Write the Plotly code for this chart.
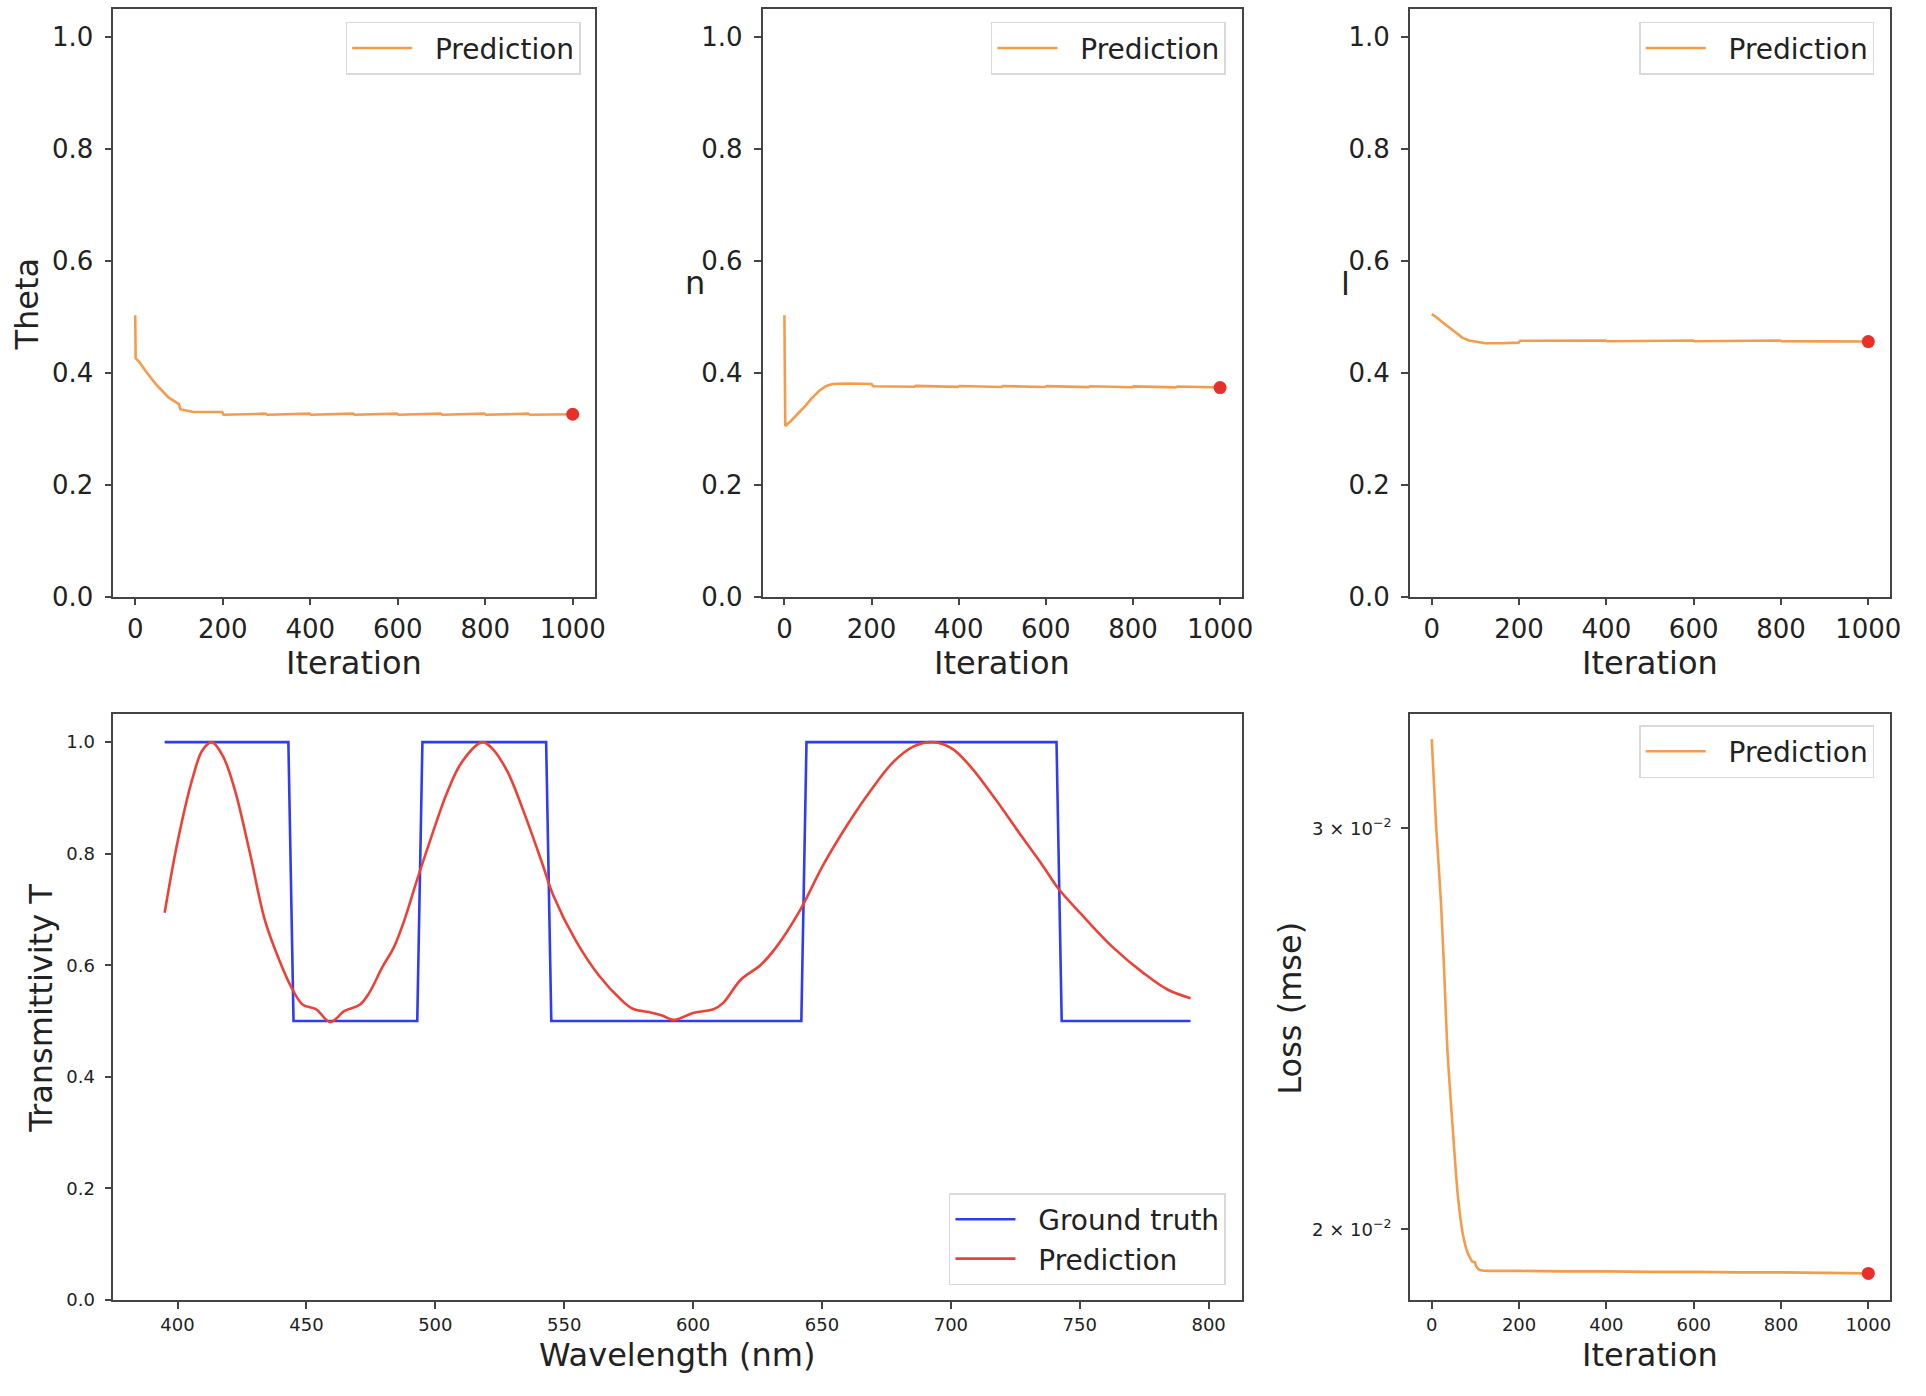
import plotly.graph_objects as go

# ---- Daten ----
# Theta ueber Iterationen
theta_iter = [0, 1, 10, 25, 47, 76, 100, 103, 133, 199, 202, 250, 298, 302, 350, 398, 402, 450,
              498, 502, 550, 598, 602, 650, 698, 702, 750, 798, 802, 850, 898, 902, 950, 1000]
theta_val = [0.503, 0.426, 0.419, 0.402, 0.380, 0.356, 0.344, 0.335, 0.330, 0.330, 0.325, 0.326,
             0.327, 0.325, 0.326, 0.327, 0.325, 0.326, 0.327, 0.325, 0.326, 0.327, 0.325, 0.326,
             0.327, 0.325, 0.326, 0.327, 0.325, 0.326, 0.327, 0.325, 0.326, 0.326]

# n ueber Iterationen
n_iter = [0, 2, 15, 26, 38, 49, 62, 80, 95, 110, 150, 200, 204, 298, 302, 398, 402, 498, 502,
          598, 602, 698, 702, 798, 802, 898, 902, 1000]
n_val = [0.503, 0.305, 0.314, 0.323, 0.332, 0.342, 0.354, 0.368, 0.376, 0.380, 0.381, 0.380,
         0.376, 0.3752, 0.3768, 0.3750, 0.3766, 0.3748, 0.3764, 0.3746, 0.3762, 0.3744,
         0.3760, 0.3742, 0.3758, 0.3740, 0.3755, 0.3737]

# l ueber Iterationen
l_iter = [0, 10, 24, 40, 55, 70, 85, 105, 123, 160, 199, 203, 298, 302, 398, 402, 498, 502,
          598, 602, 698, 702, 798, 802, 898, 902, 1000]
l_val = [0.505, 0.500, 0.491, 0.481, 0.471, 0.463, 0.458, 0.455, 0.453, 0.453, 0.454, 0.4575,
         0.4578, 0.4565, 0.4578, 0.4565, 0.4578, 0.4565, 0.4578, 0.4565, 0.4578, 0.4565,
         0.4578, 0.4565, 0.4575, 0.4563, 0.4560]

# Loss ueber Iterationen
loss_iter = [0, 10, 21, 29, 36, 48, 59, 71, 82, 93, 99, 101, 109, 130, 200, 300, 400, 500,
             600, 700, 800, 900, 1000]
loss_val = [0.03283, 0.03008, 0.02788, 0.02583, 0.02393, 0.02216, 0.02077, 0.01992, 0.01954,
            0.01936, 0.01935, 0.01928, 0.01920, 0.01918, 0.01918, 0.01917, 0.01917, 0.01916,
            0.01916, 0.01915, 0.01915, 0.01914, 0.01913]

# Transmission: Ground truth
gt_wl = [395, 443, 445, 493, 495, 543, 545, 642, 644, 741, 743, 793]
gt_t = [1.0, 1.0, 0.5, 0.5, 1.0, 1.0, 0.5, 0.5, 1.0, 1.0, 0.5, 0.5]

# Transmission: Prediction
pred_wl = [395, 400, 406, 409.6, 413.3, 417.7, 422.2, 428, 434, 440, 444, 448.6, 453.8, 459.2,
           464.8, 470.7, 474.3, 479.5, 483.9, 488.3, 492.7, 498.6, 504.5, 510.4, 518.2, 522.2,
           528, 534, 541.3, 545.7, 554.5, 563.4, 572.1, 576.6, 583.9, 588, 592.5, 600.3, 607.9,
           611.6, 618.5, 626.1, 632.2, 641.3, 650.4, 659.6, 668.7, 677.8, 685.4, 693, 700.6,
           708.2, 717.4, 726.4, 735.6, 741.6, 750.7, 762.9, 775, 784.2, 793]
pred_t = [0.694, 0.821, 0.938, 0.985, 1.0, 0.974, 0.915, 0.803, 0.679, 0.603, 0.562, 0.529,
          0.521, 0.498, 0.518, 0.529, 0.55, 0.597, 0.632, 0.685, 0.75, 0.832, 0.909, 0.965,
          1.0, 0.988, 0.947, 0.879, 0.785, 0.726, 0.644, 0.582, 0.538, 0.522, 0.515, 0.510,
          0.502, 0.515, 0.521, 0.532, 0.574, 0.6, 0.632, 0.697, 0.779, 0.85, 0.912, 0.965,
          0.992, 1.0, 0.988, 0.953, 0.897, 0.838, 0.779, 0.738, 0.691, 0.632, 0.585, 0.556,
          0.541]

ORANGE = "#F59C4C"
RED_DOT = "#E8302A"
BLUE = "#2E3CF5"
RED = "#EE4136"
FONT = "DejaVu Sans"
TXT = "#222222"

W, H = 1926, 1396
LUECKE = "\u00a0\u00a0"  # Abstand zwischen Linie und Text in der Legende


def px_x(x):
    return x / W


def px_y(y):
    return 1 - y / H


fig = go.Figure()

# drei obere Plots (Theta, n, l)
oben = [(theta_iter, theta_val), (n_iter, n_val), (l_iter, l_val)]
for i, (xs, ys) in enumerate(oben, start=1):
    sfx = "" if i == 1 else str(i)
    fig.add_trace(go.Scatter(
        x=xs, y=ys, mode="lines", name=LUECKE + "Prediction",
        line=dict(color=ORANGE, width=2.6),
        xaxis="x" + sfx, yaxis="y" + sfx, legend="legend" + sfx
    ))
    fig.add_trace(go.Scatter(
        x=[xs[-1]], y=[ys[-1]], mode="markers", showlegend=False,
        marker=dict(color=RED_DOT, size=13),
        xaxis="x" + sfx, yaxis="y" + sfx
    ))

# Transmission
fig.add_trace(go.Scatter(
    x=gt_wl, y=gt_t, mode="lines", name=LUECKE + "Ground truth",
    line=dict(color=BLUE, width=2.6), xaxis="x4", yaxis="y4", legend="legend4"
))
fig.add_trace(go.Scatter(
    x=pred_wl, y=pred_t, mode="lines", name=LUECKE + "Prediction", line_shape="spline",
    line=dict(color=RED, width=2.6), xaxis="x4", yaxis="y4", legend="legend4"
))

# Loss
fig.add_trace(go.Scatter(
    x=loss_iter, y=loss_val, mode="lines", name=LUECKE + "Prediction",
    line=dict(color=ORANGE, width=2.6, shape="spline", smoothing=0.5),
    xaxis="x5", yaxis="y5", legend="legend5"
))
fig.add_trace(go.Scatter(
    x=[loss_iter[-1]], y=[loss_val[-1]], mode="markers", showlegend=False,
    marker=dict(color=RED_DOT, size=13), xaxis="x5", yaxis="y5"
))

achse = dict(
    showline=True, mirror=True, linecolor="#444444", linewidth=1.6,
    ticks="outside", ticklen=7, tickwidth=1.5, tickcolor="#444444",
    showgrid=False, zeroline=False
)

top_y = [px_y(603), px_y(9.5)]
bot_y = [px_y(1314), px_y(722)]
x_dom = {
    1: [px_x(114), px_x(598)],
    2: [px_x(767), px_x(1249)],
    3: [px_x(1418), px_x(1901)],
}

layout = dict(
    width=W, height=H,
    margin=dict(l=0, r=0, t=0, b=0),
    paper_bgcolor="white", plot_bgcolor="white",
    font=dict(family=FONT, color=TXT),
)

for i in (1, 2, 3):
    sfx = "" if i == 1 else str(i)
    layout["xaxis" + sfx] = dict(
        achse, domain=x_dom[i], anchor="y" + sfx, range=[-50, 1050],
        tickvals=[0, 200, 400, 600, 800, 1000], tickfont=dict(size=26),
        ticklabelstandoff=1
    )
    layout["yaxis" + sfx] = dict(
        achse, domain=top_y, anchor="x" + sfx, range=[0, 1.05],
        tickvals=[0, 0.2, 0.4, 0.6, 0.8, 1.0], tickformat=".1f",
        tickfont=dict(size=26), ticklabelstandoff=6
    )

layout["xaxis4"] = dict(
    achse, domain=[px_x(114), px_x(1249)], anchor="y4", range=[375.1, 812.9],
    tickvals=[400, 450, 500, 550, 600, 650, 700, 750, 800], tickfont=dict(size=18),
    ticklabelstandoff=1
)
layout["yaxis4"] = dict(
    achse, domain=bot_y, anchor="x4", range=[0, 1.05],
    tickvals=[0, 0.2, 0.4, 0.6, 0.8, 1.0], tickformat=".1f",
    tickfont=dict(size=18), ticklabelstandoff=6
)
layout["xaxis5"] = dict(
    achse, domain=x_dom[3], anchor="y5", range=[-50, 1050],
    tickvals=[0, 200, 400, 600, 800, 1000], tickfont=dict(size=18),
    ticklabelstandoff=1
)
layout["yaxis5"] = dict(
    achse, domain=bot_y, anchor="x5", type="log", range=[-1.7299, -1.4728],
    tickvals=[0.02, 0.03],
    ticktext=["2 \u00d7 10<sup>\u22122</sup>", "3 \u00d7 10<sup>\u22122</sup>"],
    tickfont=dict(size=18), ticklabelstandoff=6
)

legende = dict(
    bgcolor="white", bordercolor="#d9d9d9", borderwidth=1.5,
    font=dict(size=28, family=FONT, color=TXT), xref="paper", yref="paper",
    xanchor="right", itemwidth=60
)
layout["legend"] = dict(legende, x=px_x(584), y=px_y(22), yanchor="top")
layout["legend2"] = dict(legende, x=px_x(1233), y=px_y(22), yanchor="top")
layout["legend3"] = dict(legende, x=px_x(1885), y=px_y(22), yanchor="top")
layout["legend4"] = dict(legende, x=px_x(1233), y=px_y(1299), yanchor="bottom")
layout["legend5"] = dict(legende, x=px_x(1885), y=px_y(733), yanchor="top")

fig.update_layout(**layout)

# Achsentitel als Annotationen (n und l stehen aufrecht)
titel = [
    ("Theta", 27, 307, -90),
    ("n", 699, 286, 0),
    ("l", 1353, 287, 0),
    ("Iteration", 356, 670, 0),
    ("Iteration", 1008, 670, 0),
    ("Iteration", 1659, 670, 0),
    ("Transmittivity T", 41, 1019, -90),
    ("Wavelength (nm)", 681, 1370, 0),
    ("Loss (mse)", 1297, 1019, -90),
    ("Iteration", 1659, 1370, 0),
]
for text, x, y, winkel in titel:
    fig.add_annotation(
        text=text, x=px_x(x), y=px_y(y), xref="paper", yref="paper",
        showarrow=False, textangle=winkel, xanchor="center", yanchor="middle",
        font=dict(size=32, family=FONT, color=TXT)
    )

# Seitenrand entfernen, damit die Figur genau im Fenster liegt
fig.write_html(
    "out.html",
    config={"displayModeBar": False},
    post_script="document.body.style.margin='0';document.body.style.overflow='hidden';"
)
